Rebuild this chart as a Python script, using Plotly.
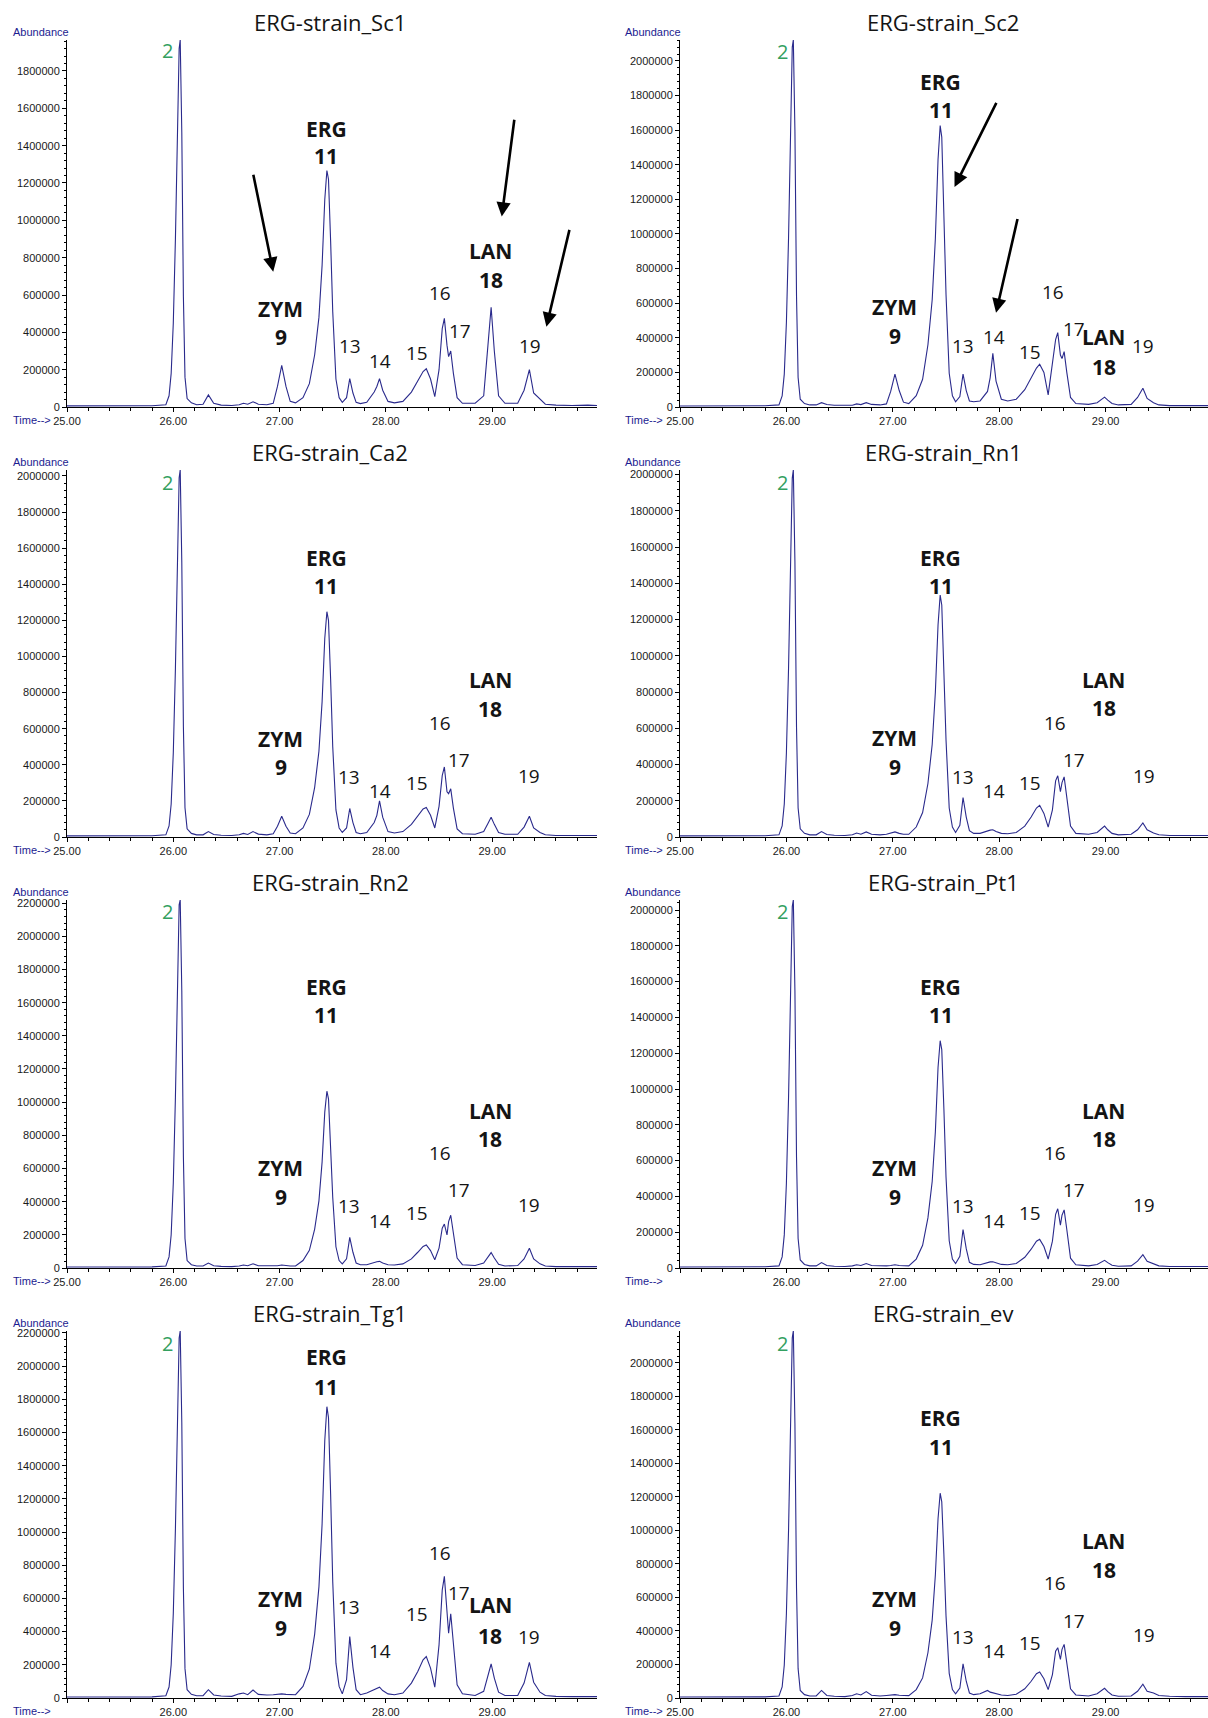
import plotly.graph_objects as go

# ---------------------------------------------------------------------------
# Data: total-ion chromatograms of eight strains (GC-MS, 25-30 min window)
# ---------------------------------------------------------------------------

# Retention time sampling points (min), shared by all runs
time_min = [
    25.00, 25.40, 25.80, 25.93,
    25.96, 25.98, 26.00, 26.02, 26.04, 26.055, 26.065, 26.08, 26.095, 26.11, 26.13, 26.17, 26.22,
    26.28, 26.33, 26.38, 26.45,
    26.55, 26.62, 26.66, 26.70, 26.75, 26.80, 26.88,
    26.94, 26.98, 27.02, 27.06, 27.10, 27.15,
    27.22, 27.28, 27.33, 27.37, 27.40, 27.425, 27.445, 27.46, 27.48, 27.50, 27.53, 27.56, 27.59,
    27.63, 27.66, 27.69, 27.72, 27.76,
    27.82, 27.89, 27.915, 27.94, 27.97, 28.02, 28.08,
    28.16, 28.24, 28.30, 28.35, 28.38, 28.42, 28.46,
    28.50, 28.53, 28.55, 28.575, 28.59, 28.61, 28.635, 28.67, 28.72,
    28.84, 28.92, 28.96, 28.99, 29.02, 29.06, 29.12,
    29.24, 29.30, 29.35, 29.39, 29.45, 29.50, 29.60, 29.75, 29.90, 30.00,
]

# Abundance at each time point, in thousands of counts
sc1_k = [
    6, 6, 7, 12,
    60, 180, 450, 900, 1530, 1920, 1966, 1470, 590, 160, 45, 22, 12,
    15, 65, 20, 10,
    8, 12, 20, 15, 28, 15, 12,
    20, 110, 223, 110, 30, 22,
    50, 125, 280, 480, 760, 1110, 1267, 1220, 890, 510, 150, 50, 25,
    50, 152, 75, 25, 18,
    25, 80, 110, 152, 90, 30, 22,
    30, 80, 140, 190, 205, 150, 55,
    200, 420, 475, 330, 270, 300, 180, 50, 20,
    20, 60, 330, 534, 300, 60, 20,
    20, 90, 200, 75, 40, 15, 10, 8, 10, 8,
]
sc2_k = [
    6, 6, 7, 12,
    64, 190, 490, 975, 1650, 2080, 2121, 1600, 640, 170, 45, 20, 12,
    12, 25, 14, 10,
    8, 10, 18, 14, 25, 15, 12,
    18, 90, 190, 95, 28, 20,
    65, 160, 360, 620, 975, 1430, 1626, 1560, 1140, 650, 195, 65, 30,
    60, 190, 95, 35, 30,
    35, 90, 170, 310, 150, 45, 35,
    45, 100, 165, 225, 247, 200, 70,
    250, 390, 430, 300, 280, 320, 200, 55, 20,
    15, 25, 45, 57, 40, 20, 12,
    15, 55, 108, 50, 25, 12, 8, 8, 8, 8,
]
ca2_k = [
    6, 6, 7, 12,
    61, 183, 467, 934, 1580, 1990, 2033, 1520, 610, 162, 45, 20, 12,
    12, 30, 14, 10,
    8, 12, 20, 14, 30, 16, 12,
    18, 60, 115, 60, 22, 18,
    50, 125, 275, 475, 750, 1100, 1248, 1200, 875, 500, 150, 50, 25,
    50, 158, 80, 25, 18,
    25, 80, 120, 200, 110, 30, 22,
    30, 70, 115, 155, 164, 120, 50,
    170, 340, 388, 250, 240, 267, 160, 45, 18,
    15, 30, 75, 109, 70, 25, 15,
    15, 55, 115, 50, 25, 12, 8, 8, 8, 8,
]
rn1_k = [
    6, 6, 7, 12,
    61, 182, 465, 930, 1580, 1980, 2025, 1520, 606, 160, 45, 20, 12,
    12, 30, 14, 10,
    8, 12, 22, 15, 28, 15, 12,
    15, 20, 28, 20, 15, 15,
    55, 135, 295, 510, 800, 1170, 1335, 1280, 935, 535, 160, 55, 25,
    65, 218, 110, 35, 20,
    20, 35, 38, 40, 30, 20, 18,
    25, 60, 110, 160, 175, 130, 55,
    150, 310, 338, 250, 300, 332, 220, 60, 20,
    15, 25, 45, 60, 40, 20, 12,
    15, 40, 78, 40, 22, 12, 8, 8, 8, 8,
]
rn2_k = [
    6, 6, 7, 12,
    67, 200, 513, 1030, 1740, 2190, 2219, 1670, 670, 178, 45, 20, 12,
    12, 30, 14, 10,
    8, 12, 18, 14, 25, 14, 12,
    12, 14, 18, 14, 12, 12,
    45, 107, 235, 405, 640, 940, 1066, 1020, 745, 425, 128, 45, 25,
    55, 185, 95, 30, 20,
    20, 35, 38, 40, 30, 20, 18,
    25, 55, 95, 130, 139, 105, 50,
    120, 240, 265, 200, 280, 318, 220, 60, 20,
    15, 30, 65, 93, 60, 22, 12,
    15, 55, 119, 55, 25, 12, 8, 8, 8, 8,
]
pt1_k = [
    6, 6, 7, 12,
    62, 185, 475, 950, 1600, 2020, 2056, 1550, 620, 165, 45, 20, 12,
    12, 30, 14, 10,
    8, 12, 18, 14, 25, 14, 12,
    12, 14, 18, 14, 12, 12,
    50, 127, 280, 483, 762, 1120, 1270, 1220, 890, 508, 152, 50, 25,
    65, 215, 108, 32, 20,
    18, 32, 34, 35, 28, 20, 18,
    25, 60, 105, 150, 160, 120, 50,
    150, 300, 331, 240, 295, 325, 215, 55, 18,
    12, 20, 35, 43, 30, 15, 10,
    12, 38, 74, 38, 22, 12, 8, 8, 8, 8,
]
tg1_k = [
    6, 6, 7, 14,
    66, 200, 510, 1020, 1720, 2170, 2212, 1660, 660, 177, 50, 22, 14,
    14, 50, 18, 12,
    10, 25, 30, 20, 48, 22, 18,
    20, 22, 25, 22, 20, 20,
    70, 175, 385, 670, 1050, 1550, 1756, 1690, 1230, 700, 210, 70, 25,
    110, 370, 185, 50, 20,
    30, 50, 55, 65, 45, 25, 20,
    30, 90, 160, 230, 250, 180, 65,
    320, 650, 733, 500, 390, 508, 330, 80, 25,
    15, 40, 130, 205, 120, 35, 15,
    15, 90, 215, 95, 35, 15, 10, 8, 10, 8,
]
ev_k = [
    6, 6, 7, 12,
    66, 197, 504, 1000, 1700, 2150, 2190, 1640, 657, 175, 45, 20, 12,
    12, 45, 15, 10,
    8, 15, 25, 18, 38, 16, 12,
    15, 18, 20, 16, 14, 14,
    50, 120, 270, 465, 735, 1070, 1222, 1170, 855, 490, 147, 50, 25,
    60, 204, 100, 30, 20,
    25, 45, 35, 30, 25, 18, 15,
    22, 55, 100, 145, 155, 115, 50,
    140, 280, 300, 230, 290, 320, 210, 55, 18,
    12, 25, 45, 58, 38, 18, 10,
    12, 40, 82, 40, 30, 15, 10, 8, 8, 8,
]

strain_names = [
    "ERG-strain_Sc1", "ERG-strain_Sc2",
    "ERG-strain_Ca2", "ERG-strain_Rn1",
    "ERG-strain_Rn2", "ERG-strain_Pt1",
    "ERG-strain_Tg1", "ERG-strain_ev",
]
abundance_k = [sc1_k, sc2_k, ca2_k, rn1_k, rn2_k, pt1_k, tg1_k, ev_k]

x_tick_values = [25, 26, 27, 28, 29]
x_tick_labels = ["25.00", "26.00", "27.00", "28.00", "29.00"]

for series in abundance_k:
    assert len(series) == len(time_min), len(series)

# ---------------------------------------------------------------------------
# Layout geometry (pixels of the 1208 x 1718 page)
# ---------------------------------------------------------------------------
W, H = 1208, 1718
ROW_TOP = [40, 470, 900, 1331]
ROW_ZERO = [407, 837, 1268, 1698]
COL_LEFT = [67, 680]
COL_RIGHT = [597, 1208]
COL_XMAX = [29.986, 29.962]
Y_MAX = [1966000, 2121000, 2033000, 2025000, 2219000, 2056000, 2212000, 2190000]
SHOW_25 = [True, True, True, True, True, False, False, True]
TITLE_X = [330, 943]
LABEL_X = [11, 623]

LINE = "#2a2a8c"
NAVY = "#1c1c90"
GREEN = "#33a060"
TXT = "#141414"
TICK_FONT = dict(family="Liberation Sans, Arial, sans-serif", size=11, color="#1a1a1a")
PEAK_FONT = "Open Sans, Noto Sans, sans-serif"

# Peak labels per panel: (text, time, abundance in thousands, style)
peak_labels = [
    [("2", 25.95, 1910, "g"), ("ERG", 27.44, 1490, "b"), ("11", 27.44, 1345, "b"),
     ("ZYM", 27.01, 525, "b"), ("9", 27.01, 377, "b"), ("13", 27.66, 327, "n"),
     ("14", 27.945, 248, "n"), ("15", 28.29, 290, "n"), ("16", 28.51, 609, "n"),
     ("17", 28.70, 409, "n"), ("LAN", 28.985, 835, "b"), ("18", 28.985, 682, "b"),
     ("19", 29.355, 327, "n")],
    [("2", 25.96, 2057, "g"), ("ERG", 27.45, 1880, "b"), ("11", 27.45, 1715, "b"),
     ("ZYM", 27.02, 576, "b"), ("9", 27.02, 411, "b"), ("13", 27.66, 354, "n"),
     ("14", 27.95, 405, "n"), ("15", 28.29, 316, "n"), ("16", 28.51, 665, "n"),
     ("17", 28.70, 449, "n"), ("LAN", 28.98, 405, "b"), ("18", 28.98, 234, "b"),
     ("19", 29.35, 354, "n")],
    [("2", 25.95, 1964, "g"), ("ERG", 27.44, 1545, "b"), ("11", 27.44, 1388, "b"),
     ("ZYM", 27.01, 545, "b"), ("9", 27.01, 388, "b"), ("13", 27.65, 333, "n"),
     ("14", 27.94, 255, "n"), ("15", 28.29, 297, "n"), ("16", 28.51, 630, "n"),
     ("17", 28.69, 424, "n"), ("LAN", 28.98, 867, "b"), ("18", 28.98, 709, "b"),
     ("19", 29.35, 339, "n")],
    [("2", 25.96, 1958, "g"), ("ERG", 27.45, 1541, "b"), ("11", 27.45, 1384, "b"),
     ("ZYM", 27.02, 544, "b"), ("9", 27.02, 387, "b"), ("13", 27.66, 332, "n"),
     ("14", 27.95, 254, "n"), ("15", 28.29, 296, "n"), ("16", 28.52, 628, "n"),
     ("17", 28.70, 423, "n"), ("LAN", 28.98, 867, "b"), ("18", 28.98, 710, "b"),
     ("19", 29.36, 338, "n")],
    [("2", 25.95, 2152, "g"), ("ERG", 27.44, 1695, "b"), ("11", 27.44, 1523, "b"),
     ("ZYM", 27.01, 603, "b"), ("9", 27.01, 430, "b"), ("13", 27.65, 371, "n"),
     ("14", 27.94, 285, "n"), ("15", 28.29, 331, "n"), ("16", 28.51, 695, "n"),
     ("17", 28.69, 470, "n"), ("LAN", 28.98, 947, "b"), ("18", 28.98, 775, "b"),
     ("19", 29.35, 377, "n")],
    [("2", 25.96, 1994, "g"), ("ERG", 27.45, 1571, "b"), ("11", 27.45, 1411, "b"),
     ("ZYM", 27.02, 558, "b"), ("9", 27.02, 399, "b"), ("13", 27.66, 344, "n"),
     ("14", 27.95, 264, "n"), ("15", 28.29, 307, "n"), ("16", 28.52, 644, "n"),
     ("17", 28.70, 436, "n"), ("LAN", 28.98, 877, "b"), ("18", 28.98, 718, "b"),
     ("19", 29.36, 350, "n")],
    [("2", 25.95, 2139, "g"), ("ERG", 27.44, 2053, "b"), ("11", 27.44, 1875, "b"),
     ("ZYM", 27.01, 594, "b"), ("9", 27.01, 422, "b"), ("13", 27.65, 548, "n"),
     ("14", 27.94, 284, "n"), ("15", 28.29, 508, "n"), ("16", 28.51, 871, "n"),
     ("17", 28.69, 634, "n"), ("LAN", 28.98, 561, "b"), ("18", 28.98, 376, "b"),
     ("19", 29.35, 370, "n")],
    [("2", 25.96, 2118, "g"), ("ERG", 27.45, 1673, "b"), ("11", 27.45, 1497, "b"),
     ("ZYM", 27.02, 588, "b"), ("9", 27.02, 418, "b"), ("13", 27.66, 366, "n"),
     ("14", 27.95, 281, "n"), ("15", 28.29, 327, "n"), ("16", 28.52, 686, "n"),
     ("17", 28.70, 458, "n"), ("LAN", 28.98, 935, "b"), ("18", 28.98, 765, "b"),
     ("19", 29.36, 373, "n")],
]

# Highlight arrows: panel index -> list of (tail time, tail k, head time, head k)
arrows = {
    0: [(26.75, 1252, 26.94, 725), (29.21, 1547, 29.09, 1020), (29.73, 957, 29.51, 430)],
    1: [(27.98, 1766, 27.58, 1272), (28.175, 1095, 27.97, 544)],
}


def px_x(x):
    return x / W


def px_y(y):
    return 1 - y / H


fig = go.Figure()
layout = dict(
    width=W, height=H, autosize=False,
    margin=dict(l=0, r=0, t=0, b=0, pad=0),
    paper_bgcolor="white", plot_bgcolor="white",
    showlegend=False,
)
annotations = []

for i, name in enumerate(strain_names):
    r, c = divmod(i, 2)
    n = i + 1
    xa = "x" if n == 1 else f"x{n}"
    ya = "y" if n == 1 else f"y{n}"
    xkey = "xaxis" if n == 1 else f"xaxis{n}"
    ykey = "yaxis" if n == 1 else f"yaxis{n}"

    fig.add_trace(go.Scatter(
        x=time_min, y=[v * 1000 for v in abundance_k[i]],
        mode="lines", line=dict(color=LINE, width=1.1),
        xaxis=xa, yaxis=ya, hoverinfo="skip",
    ))

    layout[xkey] = dict(
        domain=[px_x(COL_LEFT[c]), px_x(COL_RIGHT[c])],
        range=[25, COL_XMAX[c]], anchor=ya, automargin=False,
        showline=True, linecolor="black", linewidth=1,
        ticks="outside", ticklen=4, tickcolor="black",
        tickvals=x_tick_values,
        ticktext=[t if (k > 0 or SHOW_25[i]) else "" for k, t in enumerate(x_tick_labels)],
        tickfont=TICK_FONT,
        minor=dict(ticks="outside", ticklen=3, dtick=0.2, tick0=25, tickcolor="black"),
        showgrid=False, zeroline=False, fixedrange=True,
    )
    layout[ykey] = dict(
        domain=[px_y(ROW_ZERO[r]), px_y(ROW_TOP[r])],
        range=[0, Y_MAX[i]], anchor=xa, automargin=False,
        showline=True, linecolor="black", linewidth=1,
        ticks="outside", ticklen=4, tickcolor="black",
        tick0=0, dtick=200000, tickformat="d",
        tickfont=TICK_FONT,
        minor=dict(ticks="outside", ticklen=2, dtick=40000, tick0=0, tickcolor="black"),
        showgrid=False, zeroline=False, fixedrange=True,
    )

    # Panel title
    annotations.append(dict(
        xref="paper", yref="paper", x=px_x(TITLE_X[c]), y=px_y(ROW_TOP[r] - 18),
        text=name, showarrow=False, xanchor="center", yanchor="middle",
        font=dict(family=PEAK_FONT, size=22, color=TXT),
    ))
    # Axis captions
    annotations.append(dict(
        xref="paper", yref="paper", x=px_x(LABEL_X[c]), y=px_y(ROW_TOP[r] - 8.5),
        text="Abundance", showarrow=False, xanchor="left", yanchor="middle",
        font=dict(family="Liberation Sans, Arial, sans-serif", size=11, color=NAVY),
    ))
    annotations.append(dict(
        xref="paper", yref="paper", x=px_x(LABEL_X[c]), y=px_y(ROW_ZERO[r] + 13),
        text="Time-->", showarrow=False, xanchor="left", yanchor="middle",
        font=dict(family="Liberation Sans, Arial, sans-serif", size=11, color=NAVY),
    ))

    # Peak labels
    for text, t, yk, style in peak_labels[i]:
        if style == "g":
            font = dict(family=PEAK_FONT, size=20, color=GREEN)
        elif style == "b":
            font = dict(family=PEAK_FONT, size=21, color=TXT, weight="bold")
        else:
            font = dict(family=PEAK_FONT, size=19, color=TXT)
        annotations.append(dict(
            xref=xa, yref=ya, x=t, y=yk * 1000, text=text, showarrow=False,
            xanchor="center", yanchor="middle", font=font,
        ))

    # Highlight arrows
    for tx, ty, hx, hy in arrows.get(i, []):
        annotations.append(dict(
            xref=xa, yref=ya, axref=xa, ayref=ya,
            x=hx, y=hy * 1000, ax=tx, ay=ty * 1000, text="",
            showarrow=True, arrowhead=2, arrowsize=1.1, arrowwidth=2.6,
            arrowcolor="black", standoff=0, startstandoff=0,
        ))

layout["annotations"] = annotations
fig.update_layout(**layout)
fig.write_html("out.html")
